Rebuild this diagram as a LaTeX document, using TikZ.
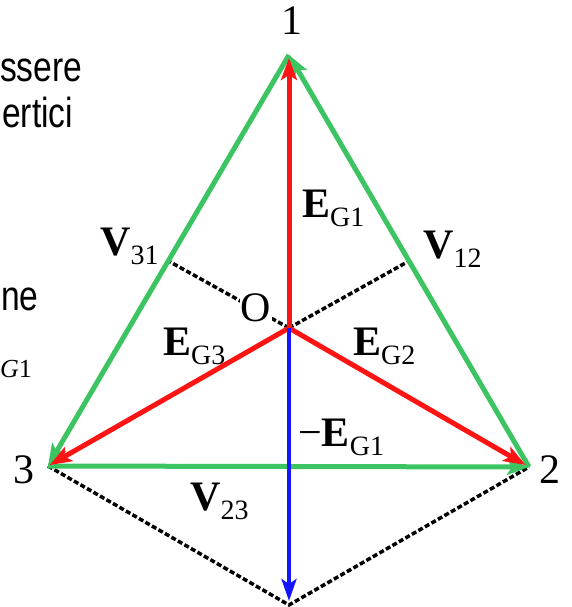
\documentclass[tikz,border=0pt]{standalone}
\usepackage{fontspec}
\setmainfont{Liberation Serif}
\newfontfamily\slidefont[FakeStretch=0.8]{Liberation Sans}
\usetikzlibrary{arrows.meta}
\definecolor{vgreen}{HTML}{3CC463}
\definecolor{ered}{HTML}{FF1414}
\definecolor{eblue}{HTML}{1414FF}
\newcommand{\vlab}[2]{\textbf{#1}\raisebox{-9pt}{\fontsize{28}{30}\selectfont #2}}

\begin{document}
\begin{tikzpicture}[x=1pt,y=-1pt,font=\fontsize{42}{44}\selectfont,
  lbl/.style={inner sep=0pt,anchor=base west},
  slide/.style={inner sep=0pt,anchor=base west,font=\slidefont\fontsize{42}{44}\selectfont},
  side/.style={vgreen,line width=5pt,-{Stealth[length=22pt,width=16pt,inset=5pt]}},
  phase/.style={ered,line width=5pt,-{Stealth[length=22pt,width=16pt,inset=5pt]}},
  guide/.style={black,line width=3.5pt,dash pattern=on 5pt off 2.5pt}]
  \useasboundingbox (0,0) rectangle (571,607);
  % vertices, centre and construction points
  \coordinate (v1) at (289,55);
  \coordinate (v2) at (529,467);
  \coordinate (v3) at (48,466);
  \coordinate (O) at (289,328);
  \coordinate (b) at (289,605);
  \coordinate (m31) at (168.5,261);
  \coordinate (m12) at (409,261);
  % slide text at the left edge
  \node[slide] (t1) at (0,82) {ssere};
  \node[slide] (t2) at (2,128) {ertici};
  \node[slide] (t3) at (1,310) {ne};
  \node[inner sep=0pt,anchor=base west,font=\fontsize{26}{28}\selectfont] (t4) at (0,377) {\textit{G}1};
  % dashed construction lines
  \draw[guide] (O) -- (m31);
  \draw[guide] (O) -- (m12);
  \draw[guide] (v3) -- (b) -- (v2);
  % line voltages
  \draw[side] (v2) -- (v1);
  \draw[side] (v1) -- (v3);
  \draw[side] (v3) -- (v2);
  % phase voltages
  \draw[phase,shorten >=3pt] (O) -- (v1);
  \draw[phase,shorten >=4pt] (O) -- (v2);
  \draw[phase,shorten >=2pt] (O) -- (v3);
  \draw[eblue,line width=4pt,shorten >=4pt,-{Stealth[length=22pt,width=15pt,inset=5pt]}] (O) -- (b);
  % labels
  \node[inner sep=1pt,fill=white,anchor=base] (lO) at (256,321) {O};
  \node[inner sep=0pt,anchor=base] (l1) at (292,35) {1};
  \node[inner sep=0pt,anchor=base] (l2) at (550,483) {2};
  \node[inner sep=0pt,anchor=base] (l3) at (24,483) {3};
  \node[lbl] (eg1) at (302,217) {\vlab{E}{G1}};
  \node[lbl] (eg2) at (353,355) {\vlab{E}{G2}};
  \node[lbl] (eg3) at (163,355) {\vlab{E}{G3}};
  \node[lbl] (meg1) at (298,446) {−\vlab{E}{G1}};
  \node[lbl] (v12) at (423,258) {\vlab{V}{12}};
  \node[lbl] (v31) at (100,255) {\vlab{V}{31}};
  \node[lbl] (v23) at (190,510) {\vlab{V}{23}};
\end{tikzpicture}
\end{document}
